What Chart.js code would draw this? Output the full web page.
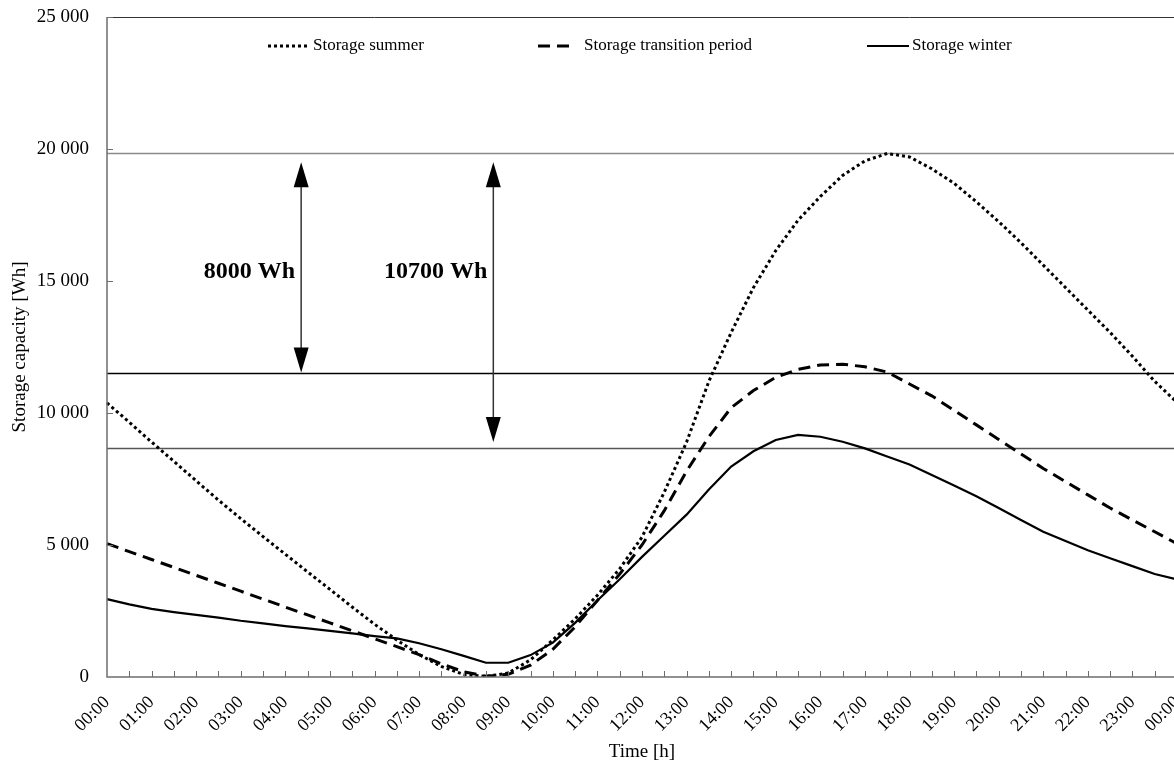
<!DOCTYPE html>
<html>
<head>
<meta charset="utf-8">
<script src="https://cdn.jsdelivr.net/npm/chart.js@4.4.0/dist/chart.umd.min.js"></script>
<style>
  html, body { margin: 0; padding: 0; background: #fff; overflow: hidden; }
  #wrap { width: 1177px; height: 763px; }
</style>
</head>
<body>
<div id="wrap"><canvas id="myChart"></canvas></div>
<script>
// half-hour steps over one day
var timeLabels = ["00:00","00:30","01:00","01:30","02:00","02:30","03:00","03:30","04:00","04:30",
  "05:00","05:30","06:00","06:30","07:00","07:30","08:00","08:30","09:00","09:30",
  "10:00","10:30","11:00","11:30","12:00","12:30","13:00","13:30","14:00","14:30",
  "15:00","15:30","16:00","16:30","17:00","17:30","18:00","18:30","19:00","19:30",
  "20:00","20:30","21:00","21:30","22:00","22:30","23:00","23:30","00:00"];

var summerWh = [10380, 9650, 8900, 8170, 7430, 6700, 6000, 5320, 4650, 3980,
  3320, 2650, 2000, 1400, 850, 400, 100, 20, 150, 650,
  1400, 2200, 3100, 4100, 5300, 7000, 8900, 11200, 13050, 14750,
  16150, 17300, 18200, 19000, 19550, 19830, 19700, 19250, 18700, 18000,
  17250, 16450, 15600, 14750, 13900, 13050, 12150, 11200, 10400];

var transitionWh = [5050, 4750, 4450, 4150, 3850, 3550, 3250, 2950, 2650, 2350,
  2050, 1750, 1450, 1150, 850, 500, 200, 30, 100, 450,
  1050, 1900, 2900, 3900, 5000, 6300, 7800, 9100, 10200, 10850,
  11350, 11650, 11820, 11850, 11750, 11550, 11100, 10650, 10100, 9550,
  9000, 8450, 7900, 7400, 6900, 6400, 5950, 5500, 5050];

var winterWh = [2950, 2750, 2580, 2460, 2350, 2250, 2130, 2030, 1930, 1840,
  1750, 1650, 1550, 1460, 1280, 1050, 800, 540, 540, 830,
  1300, 2050, 2900, 3700, 4550, 5350, 6150, 7100, 7970, 8550,
  8980, 9170, 9100, 8910, 8660, 8350, 8050, 7650, 7250, 6850,
  6400, 5950, 5500, 5150, 4800, 4500, 4200, 3900, 3700];

var yTicks = [0, 5000, 10000, 15000, 20000, 25000];

// horizontal reference levels and the two span arrows
var refLevels = [19850, 11530, 8690];
var refColors = ["#8a8a8a", "#000000", "#555555"];
var spanFrom = [19500, 19500];
var spanTo = [11530, 8900];
var spanAt = [8.71, 17.33];
var spanText = ["8000 Wh", "10700 Wh"];

var legendNames = ["Storage summer", "Storage transition period", "Storage winter"];

var serif = "'Liberation Serif', 'Times New Roman', serif";

function fmtWh(v) {
  return String(v).replace(/\B(?=(\d{3})+(?!\d))/g, " ");
}

var extras = {
  id: "extras",
  beforeDatasetsDraw: function(chart) {
    var ctx = chart.ctx, a = chart.chartArea, y = chart.scales.y;
    ctx.save();
    for (var i = 0; i < refLevels.length; i++) {
      var py = Math.round(y.getPixelForValue(refLevels[i])) + 0.5;
      ctx.strokeStyle = refColors[i];
      ctx.lineWidth = 1.5;
      ctx.beginPath();
      ctx.moveTo(a.left, py);
      ctx.lineTo(a.right, py);
      ctx.stroke();
    }
    ctx.restore();
  },
  afterDatasetsDraw: function(chart) {
    var ctx = chart.ctx, a = chart.chartArea, x = chart.scales.x, y = chart.scales.y;
    ctx.save();
    // axes lines and inward tick marks
    ctx.strokeStyle = "#6e6e6e";
    ctx.lineWidth = 1.5;
    ctx.beginPath();
    ctx.moveTo(a.left, a.top);
    ctx.lineTo(a.left, a.bottom);
    ctx.lineTo(a.right, a.bottom);
    ctx.stroke();
    ctx.strokeStyle = "#333";
    ctx.lineWidth = 1;
    ctx.beginPath();
    ctx.moveTo(a.left, a.top + 0.5);
    ctx.lineTo(a.right, a.top + 0.5);
    ctx.stroke();
    ctx.strokeStyle = "#6e6e6e";
    ctx.beginPath();
    for (var i = 1; i < timeLabels.length; i++) {
      var px = Math.round(x.getPixelForValue(i)) + 0.5;
      ctx.moveTo(px, a.bottom);
      ctx.lineTo(px, a.bottom - 6);
    }
    for (var j = 1; j < yTicks.length; j++) {
      var ty = Math.round(y.getPixelForValue(yTicks[j])) + 0.5;
      ctx.moveTo(a.left, ty);
      ctx.lineTo(a.left + 6, ty);
    }
    ctx.stroke();

    // span arrows
    for (var k = 0; k < spanAt.length; k++) {
      var ax = x.getPixelForValue(spanAt[k]);
      var top = y.getPixelForValue(spanFrom[k]);
      var bot = y.getPixelForValue(spanTo[k]);
      ctx.strokeStyle = "#333";
      ctx.lineWidth = 1.5;
      ctx.beginPath();
      ctx.moveTo(ax, top + 20);
      ctx.lineTo(ax, bot - 20);
      ctx.stroke();
      ctx.fillStyle = "#000";
      ctx.beginPath();
      ctx.moveTo(ax, top);
      ctx.lineTo(ax - 7.5, top + 25);
      ctx.lineTo(ax + 7.5, top + 25);
      ctx.closePath();
      ctx.fill();
      ctx.beginPath();
      ctx.moveTo(ax, bot);
      ctx.lineTo(ax - 7.5, bot - 25);
      ctx.lineTo(ax + 7.5, bot - 25);
      ctx.closePath();
      ctx.fill();
      ctx.font = "bold 24px " + serif;
      ctx.textAlign = "right";
      ctx.textBaseline = "middle";
      ctx.fillText(spanText[k], ax - 6, 272);
    }

    // legend inside the plot
    var ly = 46;
    ctx.strokeStyle = "#000";
    ctx.lineWidth = 3;
    ctx.setLineDash([3, 3]);
    ctx.beginPath(); ctx.moveTo(268, ly); ctx.lineTo(310, ly); ctx.stroke();
    ctx.setLineDash([12, 7]);
    ctx.beginPath(); ctx.moveTo(538, ly); ctx.lineTo(572, ly); ctx.stroke();
    ctx.setLineDash([]);
    ctx.lineWidth = 2.2;
    ctx.beginPath(); ctx.moveTo(867, ly); ctx.lineTo(909, ly); ctx.stroke();
    ctx.fillStyle = "#000";
    ctx.font = "17px " + serif;
    ctx.textAlign = "left";
    ctx.textBaseline = "middle";
    ctx.fillText(legendNames[0], 313, ly);
    ctx.fillText(legendNames[1], 584, ly);
    ctx.fillText(legendNames[2], 912, ly);
    ctx.restore();
  }
};

new Chart("myChart", {
  type: "line",
  data: {
    labels: timeLabels,
    datasets: [{
      label: legendNames[0],
      data: summerWh,
      borderColor: "#000",
      borderWidth: 3,
      borderDash: [3, 3],
      pointRadius: 0,
      tension: 0
    }, {
      label: legendNames[1],
      data: transitionWh,
      borderColor: "#000",
      borderWidth: 3,
      borderDash: [12, 7],
      pointRadius: 0,
      tension: 0
    }, {
      label: legendNames[2],
      data: winterWh,
      borderColor: "#000",
      borderWidth: 2.2,
      pointRadius: 0,
      tension: 0
    }]
  },
  options: {
    responsive: true,
    maintainAspectRatio: false,
    animation: false,
    layout: { padding: { top: 17, right: 0, bottom: 0, left: 0 } },
    plugins: {
      legend: { display: false },
      tooltip: { enabled: false }
    },
    scales: {
      x: {
        grid: { display: false, drawTicks: false },
        border: { display: false },
        ticks: {
          autoSkip: false,
          maxRotation: 45,
          minRotation: 45,
          padding: 15,
          color: "#000",
          font: { family: serif, size: 18 },
          callback: function(val, idx) { return idx % 2 === 0 ? timeLabels[idx] : ""; }
        },
        title: {
          display: true,
          text: "Time [h]",
          color: "#000",
          font: { family: serif, size: 19 },
          padding: { top: 0, bottom: 0 }
        },
        afterFit: function(s) { s.height = 86; s.paddingLeft = 0; s.paddingRight = 0; }
      },
      y: {
        min: 0,
        max: 25000,
        grid: { display: false, drawTicks: false },
        border: { display: false },
        ticks: {
          stepSize: 5000,
          padding: 18,
          color: "#000",
          font: { family: serif, size: 19 },
          callback: function(v) { return fmtWh(v); }
        },
        title: {
          display: true,
          text: "Storage capacity [Wh]",
          color: "#000",
          font: { family: serif, size: 19 },
          padding: { top: 9, bottom: 0 }
        },
        afterFit: function(s) { s.width = 107; s.paddingTop = 0; s.paddingBottom = 0; }
      }
    }
  },
  plugins: [extras]
});
</script>
</body>
</html>
